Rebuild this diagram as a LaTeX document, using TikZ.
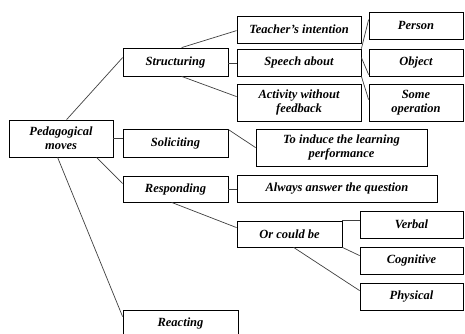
\documentclass[tikz,border=0pt]{standalone}
\usepackage{fontspec}
\setmainfont{Liberation Serif}
\usetikzlibrary{calc}
\begin{document}
\begin{tikzpicture}[x=1pt,y=-1pt,
  box/.style={draw=black,line width=0.8pt,inner sep=0pt,align=center,
    font=\fontsize{12.5}{14}\selectfont\bfseries\itshape},
  link/.style={draw=black!75,line width=0.7pt}]
\useasboundingbox (0,0) rectangle (465,334);
\fill[white] (0,0) rectangle (465,334);
% nodes
\node[box,minimum width=104pt,minimum height=37pt] (ped) at (61,138.5) {Pedagogical\\moves};
\node[box,minimum width=105pt,minimum height=28pt] (str) at (175.5,62) {Structuring};
\node[box,minimum width=105pt,minimum height=28pt] (sol) at (175.5,143) {Soliciting};
\node[box,minimum width=105pt,minimum height=26pt] (resp) at (175.5,189) {Responding};
\node[box,minimum width=115pt,minimum height=26pt] (react) at (180.5,323) {Reacting};
\node[box,minimum width=124pt,minimum height=27pt] (teach) at (299,29.5) {Teacher's intention};
\node[box,minimum width=124pt,minimum height=27pt] (speech) at (299,62.5) {Speech about};
\node[box,minimum width=124pt,minimum height=37pt] (act) at (299,102.5) {Activity without\\feedback};
\node[box,minimum width=94pt,minimum height=27pt] (person) at (416,25.5) {Person};
\node[box,minimum width=94pt,minimum height=27pt] (object) at (416,62.5) {Object};
\node[box,minimum width=94pt,minimum height=37pt] (some) at (416,102.5) {Some\\operation};
\node[box,minimum width=171pt,minimum height=37pt] (induce) at (341.5,147.5) {To induce the learning\\performance};
\node[box,minimum width=200pt,minimum height=27pt] (always) at (337,188.5) {Always answer the question};
\node[box,minimum width=105pt,minimum height=26pt] (orc) at (289.5,234) {Or could be};
\node[box,minimum width=103pt,minimum height=27pt] (verbal) at (411.5,224.5) {Verbal};
\node[box,minimum width=103pt,minimum height=27pt] (cog) at (411.5,260.5) {Cognitive};
\node[box,minimum width=103pt,minimum height=27pt] (phys) at (411.5,296.5) {Physical};
% connectors
\draw[link] ([xshift=58pt]ped.north west) -- ([yshift=-10pt]str.north west);
\draw[link] (ped.east) -- (sol.west |- ped.east);
\draw[link] ([xshift=88pt]ped.south west) -- ([yshift=-8pt]resp.north west);
\draw[link] ([xshift=49pt]ped.south west) -- ([yshift=-7pt]react.north west);
\draw[link] ([xshift=59pt]str.north west) -- ([yshift=-15pt]teach.north west);
\draw[link] ([yshift=-1pt]str.east) -- ([yshift=-1pt]speech.west |- str.east);
\draw[link] ([xshift=59pt]str.south west) -- ([yshift=-13pt]act.north west);
\draw[link] (speech.north east) -- ([yshift=-8pt]person.north west);
\draw[link] ([yshift=-9pt]speech.north east) -- ([yshift=-26pt]object.north west);
\draw[link] (speech.south east) -- ([yshift=-16pt]some.north west);
\draw[link] ([yshift=-1pt]sol.north east) -- ([yshift=-19pt]induce.north west);
\draw[link] (resp.east) -- (always.west |- resp.east);
\draw[link] ([xshift=49pt]resp.south west) -- ([yshift=-7pt]orc.north west);
\draw[link] (orc.north east) -- (verbal.west |- orc.north east);
\draw[link] (orc.south east) -- ([yshift=-9pt]cog.north west);
\draw[link] ([xshift=57pt]orc.south west) -- ([yshift=-8pt]phys.north west);
\end{tikzpicture}
\end{document}
